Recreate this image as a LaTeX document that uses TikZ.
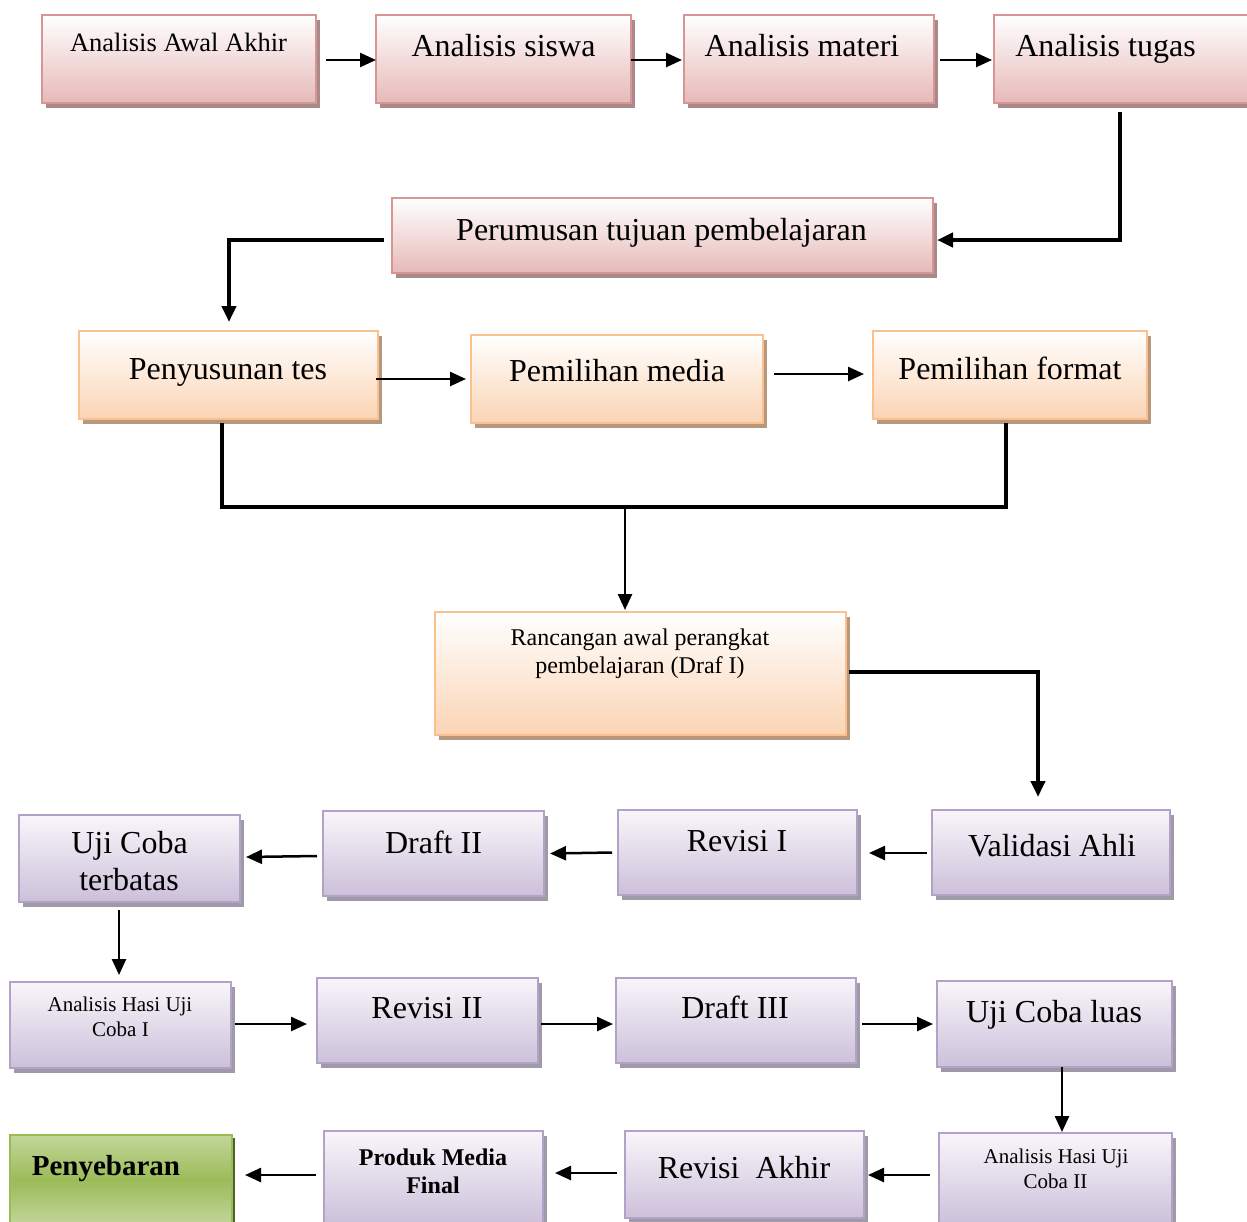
\documentclass[tikz,border=0pt]{standalone}
\usepackage{fontspec}
\setmainfont{Liberation Serif}
\usetikzlibrary{arrows.meta,shadows,calc}
\definecolor{pinkB}{HTML}{D99594}
\definecolor{pinkF}{HTML}{E6B9B8}
\definecolor{pinkS}{HTML}{A88A8B}
\definecolor{orB}{HTML}{FAC08F}
\definecolor{orF}{HTML}{FBD4B4}
\definecolor{orS}{HTML}{B8987C}
\definecolor{puB}{HTML}{B3A2C7}
\definecolor{puF}{HTML}{CCC0DA}
\definecolor{puT}{HTML}{F8F6FA}
\definecolor{puS}{HTML}{A09AA8}
\definecolor{grB}{HTML}{9BBB59}
\definecolor{grL}{HTML}{C3D69B}
\definecolor{grS}{HTML}{4F6228}
\begin{document}
\begin{tikzpicture}[x=1pt,y=-1pt,
  box/.style={rectangle, line width=2pt, inner sep=0pt, outer sep=0pt},
  pinkbox/.style={box, draw=pinkB, top color=white, bottom color=pinkF,
    drop shadow={shadow xshift=4pt, shadow yshift=-5pt, fill=pinkS, opacity=1}},
  orbox/.style={box, draw=orB, top color=white, bottom color=orF,
    drop shadow={shadow xshift=4pt, shadow yshift=-5pt, fill=orS, opacity=1}},
  pubox/.style={box, draw=puB, top color=puT, bottom color=puF,
    drop shadow={shadow xshift=4pt, shadow yshift=-5pt, fill=puS, opacity=1}},
  grbox/.style={box, draw=grB, top color=grL, bottom color=grL, middle color=grB,
    drop shadow={shadow xshift=3pt, shadow yshift=-3pt, fill=grS, opacity=1}},
  txt/.style={anchor=base, inner sep=0pt, font=\fontsize{32}{38}\selectfont},
  txtm/.style={anchor=base, inner sep=0pt, font=\fontsize{26.5}{32}\selectfont},
  txts/.style={anchor=base, inner sep=0pt, font=\fontsize{24}{28}\selectfont},
  txtxs/.style={anchor=base, inner sep=0pt, font=\fontsize{21}{25}\selectfont},
  txtb/.style={anchor=base, inner sep=0pt, font=\fontsize{24}{28}\selectfont\bfseries},
  txtbl/.style={anchor=base, inner sep=0pt, font=\fontsize{29}{34}\selectfont\bfseries},
  arr/.style={line width=2.5pt, -{Triangle[length=16pt,width=14pt]}},
  tarr/.style={line width=4pt, -{Triangle[length=16pt,width=14pt]}},
  tline/.style={line width=4pt}
]
\useasboundingbox (0,0) rectangle (1247,1221);
\fill[white] (0,0) rectangle (1247,1221);

% row 1
\node[pinkbox, minimum width=274pt, minimum height=88pt] (a1) at (179,59) {};
\node[pinkbox, minimum width=255pt, minimum height=88pt] (a2) at (503.5,59) {};
\node[pinkbox, minimum width=250pt, minimum height=88pt] (a3) at (809,59) {};
\node[pinkbox, minimum width=258pt, minimum height=88pt] (a4) at (1123,59) {};
\node[txtm] (t1) at (178.5,51) {Analisis Awal Akhir};
\node[txt] (t2) at (503.5,56) {Analisis siswa};
\node[txt] (t3) at (802,56) {Analisis materi};
\node[txt] (t4) at (1105.5,56) {Analisis tugas};

% row 2
\node[pinkbox, minimum width=541pt, minimum height=75pt] (per) at (662.5,235.5) {};
\node[txt] (t5) at (661.5,240) {Perumusan tujuan pembelajaran};

% row 3
\node[orbox, minimum width=299pt, minimum height=88pt] (pen) at (228.5,375) {};
\node[orbox, minimum width=292pt, minimum height=88pt] (med) at (617,379) {};
\node[orbox, minimum width=274pt, minimum height=88pt] (fmt) at (1010,375) {};
\node[txt] (t6) at (228,379) {Penyusunan tes};
\node[txt] (t7) at (617,381) {Pemilihan media};
\node[txt] (t8) at (1010,379) {Pemilihan format};

% rancangan
\node[orbox, minimum width=411pt, minimum height=123pt] (rnc) at (640.5,673.5) {};
\node[txts] (t9) at (640,645) {Rancangan awal perangkat};
\node[txts] (t10) at (640,673) {pembelajaran (Draf I)};

% row 4
\node[pubox, minimum width=238pt, minimum height=85pt] (val) at (1051,852.5) {};
\node[pubox, minimum width=239pt, minimum height=85pt] (rv1) at (737.5,852.5) {};
\node[pubox, minimum width=221pt, minimum height=85pt] (dr2) at (433.5,853.5) {};
\node[pubox, minimum width=221pt, minimum height=87pt] (ujt) at (129.5,858.5) {};
\node[txt] (t11) at (1052,856.5) {Validasi Ahli};
\node[txt] (t12) at (737,851.5) {Revisi I};
\node[txt] (t13) at (433.5,853.5) {Draft II};
\node[txt] (t14) at (129.5,853.5) {Uji Coba};
\node[txt] (t15) at (129,890) {terbatas};

% row 5
\node[pubox, minimum width=221pt, minimum height=86pt] (ah1) at (120.5,1025) {};
\node[pubox, minimum width=221pt, minimum height=85pt] (rv2) at (427.5,1020.5) {};
\node[pubox, minimum width=240pt, minimum height=85pt] (dr3) at (736,1020.5) {};
\node[pubox, minimum width=235pt, minimum height=86pt] (ucl) at (1054.5,1024) {};
\node[txtxs] (t16) at (120,1011) {Analisis Hasi Uji};
\node[txtxs] (t17) at (120.5,1036) {Coba I};
\node[txt] (t18) at (427,1018.5) {Revisi II};
\node[txt] (t19) at (735,1018.5) {Draft III};
\node[txt] (t20) at (1054,1022.5) {Uji Coba luas};

% row 6
\node[pubox, minimum width=233pt, minimum height=92pt] (ah2) at (1055.5,1179) {};
\node[pubox, minimum width=239pt, minimum height=87pt] (ra) at (744.5,1174.5) {};
\node[pubox, minimum width=219pt, minimum height=94pt] (pm) at (433.5,1178) {};
\node[grbox, minimum width=222pt, minimum height=90pt] (py) at (121,1180) {};
\node[txtxs] (t21) at (1056,1163) {Analisis Hasi Uji};
\node[txtxs] (t22) at (1055.5,1188) {Coba II};
\node[txt] (t23) at (744,1178.5) {Revisi\ \ Akhir};
\node[txtb] (t24) at (433,1165) {Produk Media};
\node[txtb] (t25) at (433,1193) {Final};
\node[txtbl] (t26) at (106,1175) {Penyebaran};

% connectors
\draw[arr] ($(a1.east)+(10,1)$) -- ($(a2.west)+(0,1)$);
\draw[arr] ($(a2.east)+(0,1)$) -- ($(a3.west)+(-2,1)$);
\draw[arr] ($(a3.east)+(6,1)$) -- ($(a4.west)+(-2,1)$);
\draw[tarr] ($(a4.south)+(-3,9)$) |- ($(per.east)+(4,4.5)$);
\draw[tarr] ($(per.west)+(-8,4.5)$) -| ($(pen.north)+(0.5,-9)$);
\draw[arr] ($(pen.east |- med.west)+(-2,0)$) -- ($(med.west)+(-5,0)$);
\draw[arr] ($(med.east)+(11,-5)$) -- ($(fmt.west)+(-9,-1)$);
\draw[tline] ($(pen.south)+(-6.5,4)$) -- ++(0,84) -| ($(fmt.south)+(-4,4)$);
\coordinate (mj) at (625,507);
\draw[arr] (mj) -- ($(mj |- rnc.north)+(0,-2)$);
\draw[tarr] ($(rnc.east)+(3,-1.5)$) -| ($(val.north)+(-13,-13)$);
\draw[arr] ($(val.west)+(-5,0.5)$) -- ($(rv1.east)+(12,0.5)$);
\draw[arr] ($(rv1.west)+(-6,0)$) -- ($(dr2.east)+(6,0)$);
\draw[arr] ($(dr2.west)+(-6,2.5)$) -- ($(ujt.east)+(6,-1.5)$);
\draw[arr] ($(ujt.south)+(-10.5,8)$) -- ($(ah1.north)+(-1.5,-7)$);
\draw[arr] ($(ah1.east)+(4,-1)$) -- ($(rv2.west)+(-10,3.5)$);
\draw[arr] ($(rv2.east)+(3,3.5)$) -- ($(dr3.west)+(-3,3.5)$);
\draw[arr] ($(dr3.east)+(6,3.5)$) -- ($(ucl.west)+(-4,0)$);
\draw[arr] ($(ucl.south)+(7.5,0)$) -- ($(ah2.north)+(6.5,-1)$);
\draw[arr] ($(ah2.west)+(-9,-4)$) -- ($(ra.east)+(4,0.5)$);
\draw[arr] ($(ra.west)+(-8,-1.5)$) -- ($(pm.east)+(12,-5)$);
\draw[arr] ($(pm.west)+(-8,-3)$) -- ($(py.east)+(13,-5)$);
\end{tikzpicture}
\end{document}
